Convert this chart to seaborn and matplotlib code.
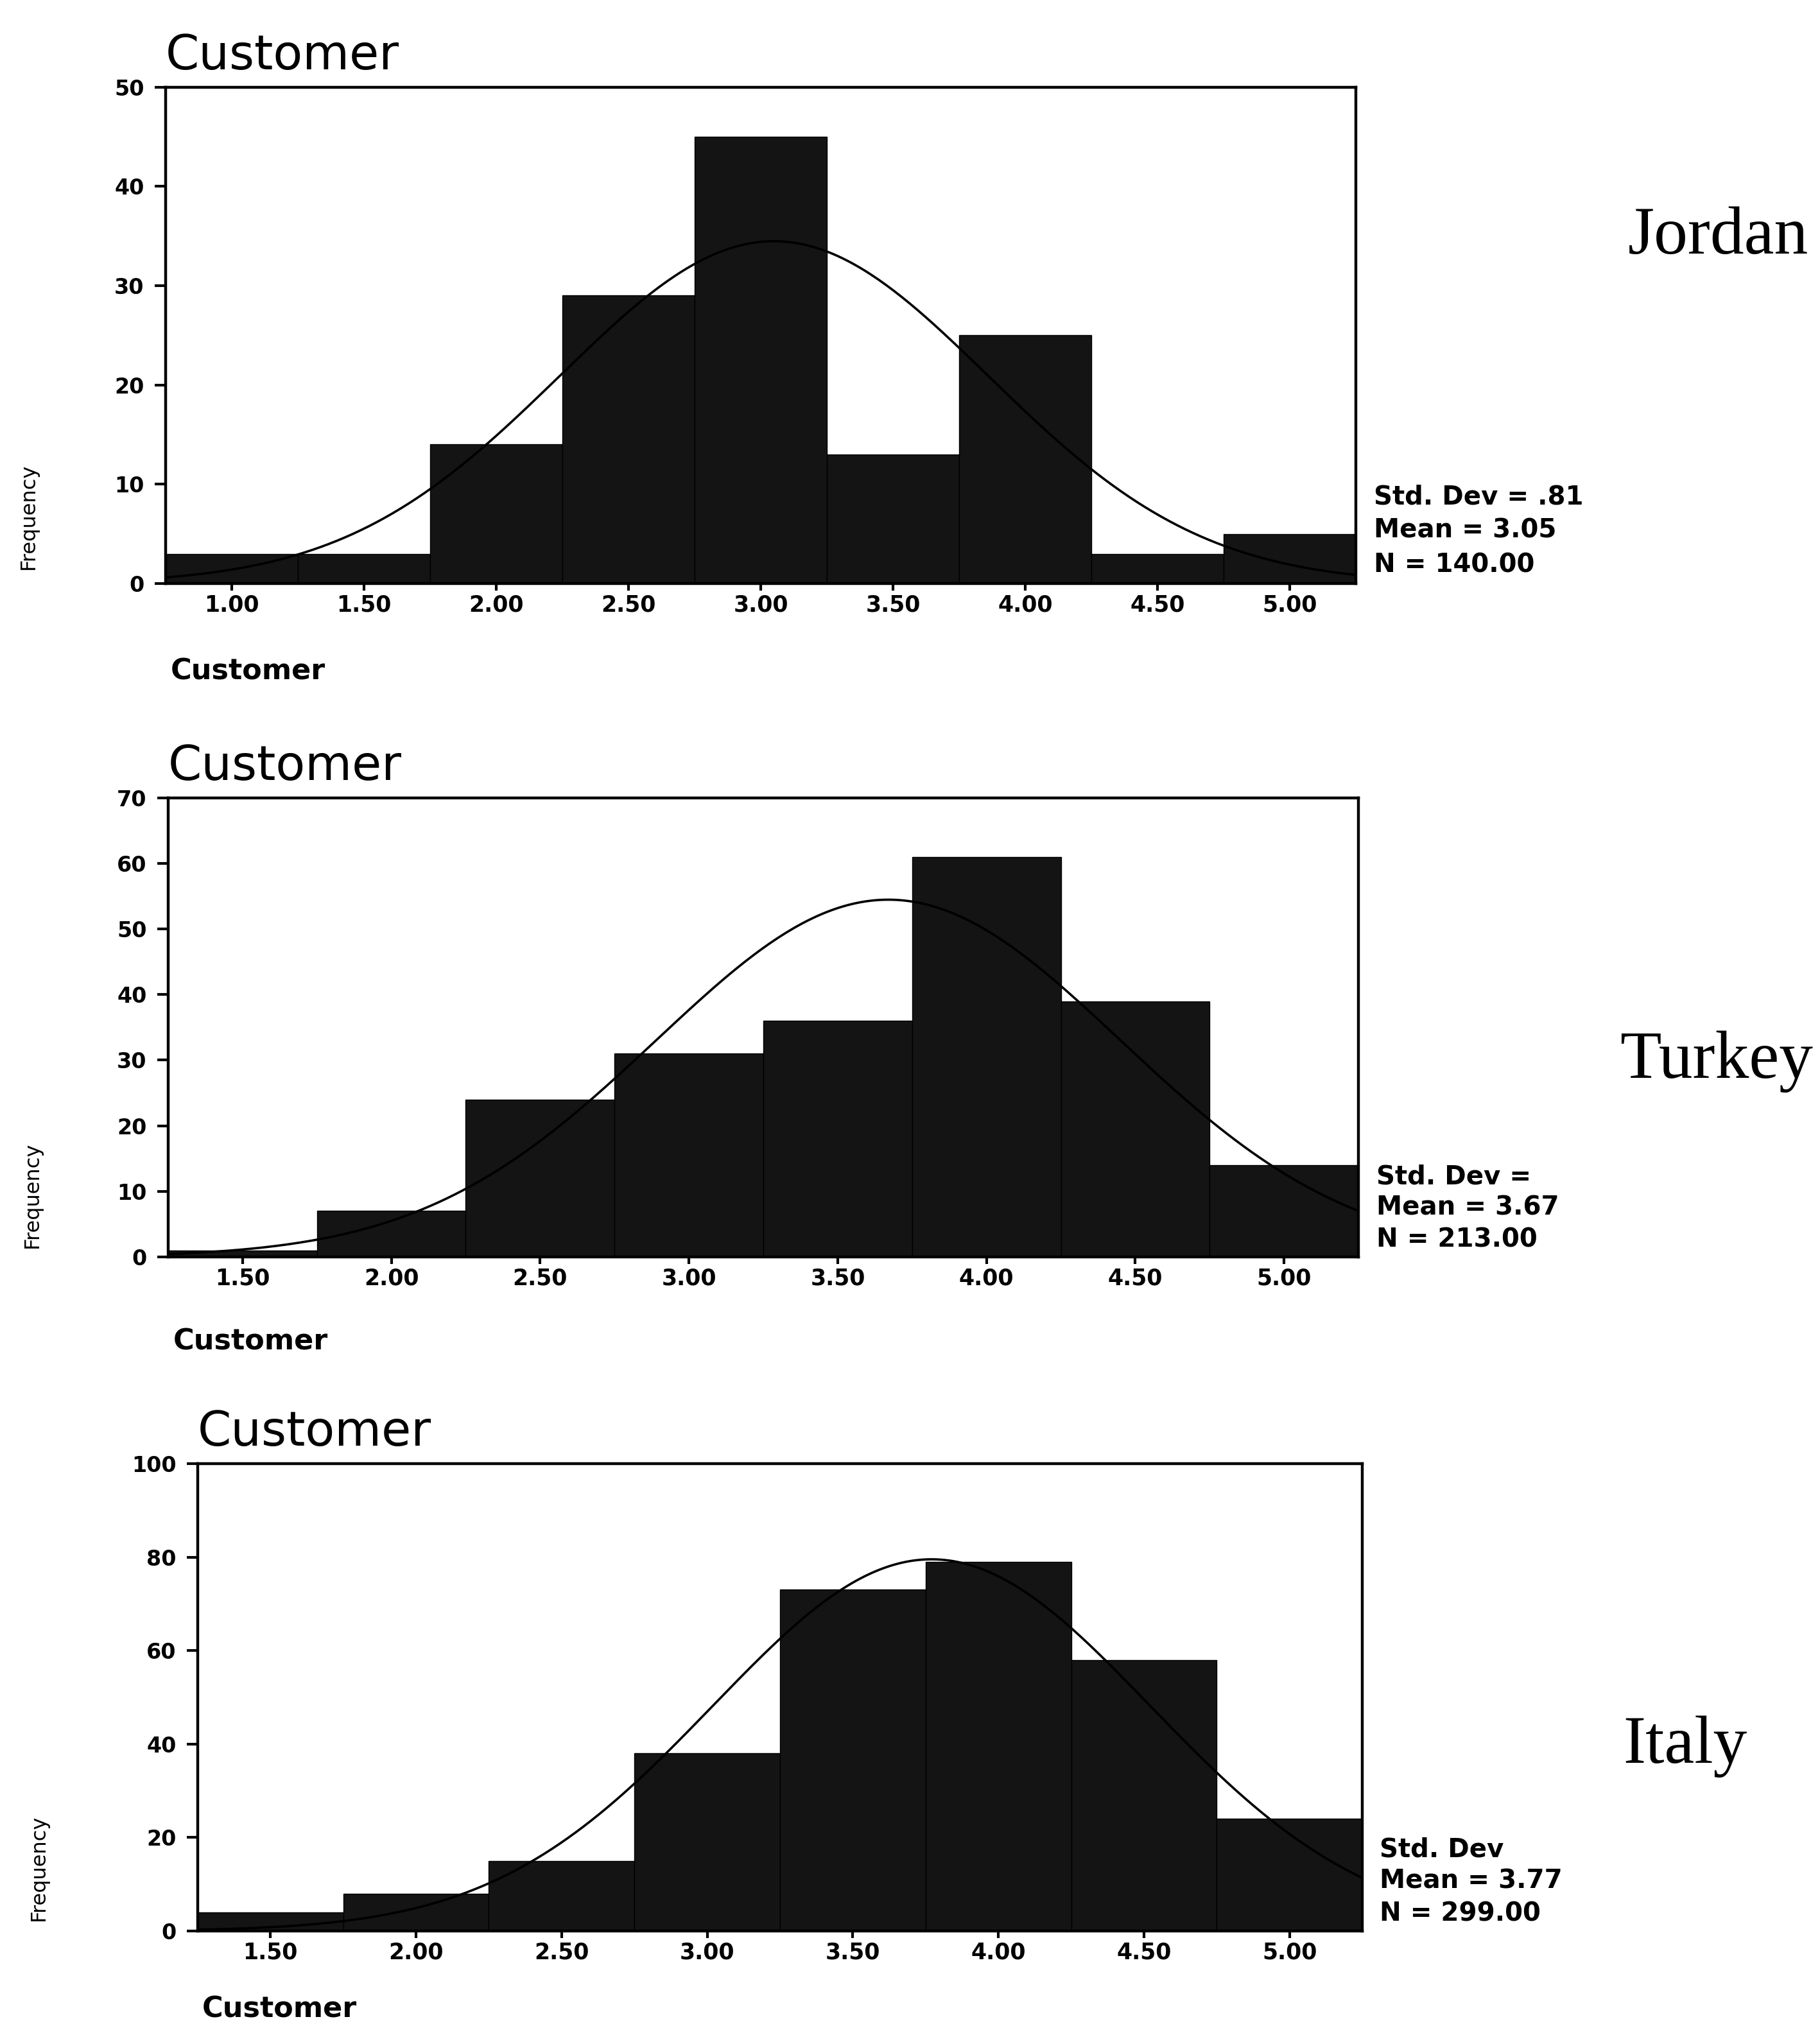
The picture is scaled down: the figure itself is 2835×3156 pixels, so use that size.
import numpy as np
import pandas as pd
import matplotlib
matplotlib.use('Agg')
import matplotlib.pyplot as plt
import seaborn as sns

# Bin centres (bin width .5) and the counts
jordan_centres = [1.0, 1.5, 2.0, 2.5, 3.0, 3.5, 4.0, 4.5, 5.0]
jordan_counts = [3, 3, 14, 29, 45, 13, 25, 3, 5]
turkey_centres = [1.5, 2.0, 2.5, 3.0, 3.5, 4.0, 4.5, 5.0]
turkey_counts = [1, 7, 24, 31, 36, 61, 39, 14]
italy_centres = [1.5, 2.0, 2.5, 3.0, 3.5, 4.0, 4.5, 5.0]
italy_counts = [4, 8, 15, 38, 73, 79, 58, 24]

# Statistics for the normal curve (sd for Turkey / Italy is cut off in the scan, estimated)
jordan_mean, jordan_sd, jordan_n = 3.05, 0.81, 140
turkey_mean, turkey_sd, turkey_n = 3.67, 0.78, 213
italy_mean, italy_sd, italy_n = 3.77, 0.75, 299

# Text printed beside each chart
jordan_stats = ['Std. Dev = .81', 'Mean = 3.05', 'N = 140.00']
turkey_stats = ['Std. Dev =', 'Mean = 3.67', 'N = 213.00']
italy_stats = ['Std. Dev', 'Mean = 3.77', 'N = 299.00']

jordan_yticks = [0, 10, 20, 30, 40, 50]
turkey_yticks = [0, 10, 20, 30, 40, 50, 60, 70]
italy_yticks = [0, 20, 40, 60, 80, 100]
jordan_xticks = ['1.00', '1.50', '2.00', '2.50', '3.00', '3.50', '4.00', '4.50', '5.00']
other_xticks = ['1.50', '2.00', '2.50', '3.00', '3.50', '4.00', '4.50', '5.00']

countries = ['Jordan', 'Turkey', 'Italy']

sns.set_style('white')
plt.rcParams['font.family'] = ['DejaVu Sans']
plt.rcParams['text.color'] = 'black'
plt.rcParams['axes.labelcolor'] = 'black'
plt.rcParams['xtick.color'] = 'black'
plt.rcParams['ytick.color'] = 'black'

fig = plt.figure(figsize=(28.35, 31.56), dpi=100)

panels = [
    # axes rect, data, ylabel x-offset, xlabel y-offset, country label position
    ([0.091, 0.712, 0.654, 0.245], jordan_centres, jordan_counts, jordan_mean, jordan_sd, jordan_n,
     jordan_stats, jordan_yticks, jordan_xticks, -0.107, -0.15, (0.944, 0.883)),
    ([0.0924, 0.3796, 0.654, 0.2266], turkey_centres, turkey_counts, turkey_mean, turkey_sd, turkey_n,
     turkey_stats, turkey_yticks, other_xticks, -0.106, -0.155, (0.943, 0.476)),
    ([0.1086, 0.0469, 0.640, 0.2307], italy_centres, italy_counts, italy_mean, italy_sd, italy_n,
     italy_stats, italy_yticks, other_xticks, -0.128, -0.138, (0.926, 0.138)),
]

for country, (rect, centres, counts, mean, sd, n, stats, yticks, xticks,
              ylab_x, xlab_y, cpos) in zip(countries, panels):
    ax = fig.add_axes(rect)
    df = pd.DataFrame({'score': centres, 'count': counts})
    edges = [x - 0.25 for x in centres] + [centres[-1] + 0.25]

    sns.histplot(data=df, x='score', weights='count', bins=edges, color='#141414',
                 edgecolor='black', linewidth=1.0, alpha=1, ax=ax)

    # normal curve scaled to the counts
    xs = np.linspace(edges[0], edges[-1], 300)
    ys = n * 0.5 * np.exp(-0.5 * ((xs - mean) / sd) ** 2) / (sd * np.sqrt(2 * np.pi))
    sns.lineplot(x=xs, y=ys, color='black', linewidth=2.6, ax=ax)

    ax.set_xlim(edges[0], edges[-1])
    ax.set_ylim(0, yticks[-1])
    ax.set_yticks(yticks)
    ax.set_yticklabels([str(t) for t in yticks], fontsize=24, fontweight='bold')
    ax.set_xticks(centres)
    ax.set_xticklabels(xticks, fontsize=25, fontweight='bold')
    ax.tick_params(axis='y', direction='out', length=12, width=3, pad=12, left=True)
    ax.tick_params(axis='x', direction='out', length=8, width=3, pad=4, bottom=True)

    for sp in ax.spines.values():
        sp.set_visible(True)
        sp.set_color('black')
        sp.set_linewidth(3.2)

    ax.set_title('Customer', loc='left', fontsize=54, pad=20)
    ax.set_xlabel('Customer', loc='left', fontsize=32, fontweight='bold')
    ax.xaxis.set_label_coords(0.004, xlab_y)
    ax.set_ylabel('Frequency', fontsize=23)
    ax.yaxis.set_label_coords(ylab_x, 0.135)

    for txt, yy in zip(stats, [0.174, 0.107, 0.037]):
        ax.text(1.015, yy, txt, transform=ax.transAxes, fontsize=29, fontweight='bold',
                va='center', ha='left')

    fig.text(cpos[0], cpos[1], country, family='Liberation Serif', fontsize=76,
             ha='center', va='center')

fig.savefig('out.png', dpi=100, facecolor='white')
